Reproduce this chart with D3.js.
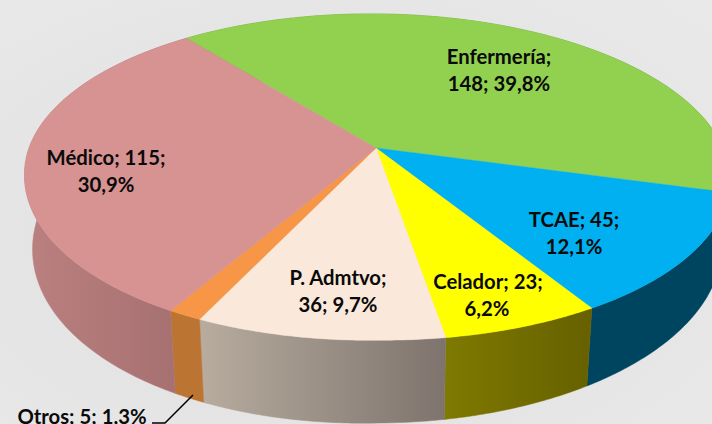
<!DOCTYPE html>
<html><head><meta charset="utf-8">
<script src="https://cdn.jsdelivr.net/npm/d3@7"></script>
<style>html,body{margin:0;padding:0;background:#e4e4e4;overflow:hidden}svg{display:block}</style>
</head><body><svg id="c" width="712" height="424"></svg>
<script>
const categories = ["Enfermería","TCAE","Celador","P. Admtvo","Otros","Médico"];
const values = [148,45,23,36,5,115];
const percents = ["39,8%","12,1%","6,2%","9,7%","1,3%","30,9%"];
const topColors = ["#92d050","#00b0f0","#ffff00","#fae8da","#f79646","#d79292"];
const sideFrom = ["#6d9c3b","#00455f","#7f7a00","#b8ac9f","#bc7433","#bb8080"];
const sideTo = ["#6d9c3b","#00455f","#666000","#7e746d","#bc7433","#a56f6f"];
const labelLines = [
 [["Enfermería;",499,57],["148; 39,8%",499,84]],
 [["TCAE; 45;",574,220],["12,1%",574,247]],
 [["Celador; 23;",488,282],["6,2%",487,309]],
 [["P. Admtvo;",338,278],["36; 9,7%",338,305]],
 [["Otros; 5; 1,3%",82,417]],
 [["Médico; 115;",106,158],["30,9%",106,185]]
];
const svg = d3.select("#c");
const defs = svg.append("defs");
const bg = defs.append("radialGradient").attr("id","bg").attr("cx","45%").attr("cy","55%").attr("r","75%");
bg.append("stop").attr("offset","0%").attr("stop-color","#dedede");
bg.append("stop").attr("offset","100%").attr("stop-color","#e9e9e9");
svg.append("rect").attr("width",712).attr("height",424).attr("fill","url(#bg)");

const x0=376,y0=148,A=347,B=158,k=0.178,depth=68,shrink=0.977,shear=0.037,tilt=7,depthTilt=4;
const sx=d3.scaleLinear().domain([0,1]).range([x0,x0+A]);
const sy=d3.scaleLinear().domain([0,1]).range([y0,y0-B]);
function proj(a){
  const x=Math.sin(a),y=Math.cos(a),w=1+k*y;
  const Y=sy(y/w)+tilt*Math.max(0,-x)*Math.max(0,-y);
  return {X:sx(x/w)+shear*(Y-y0),Y,w,x};
}
function low(a){const p=proj(a);return [x0+shrink*(p.X-x0),p.Y+(depth-depthTilt*p.x)/p.w];}
const start=-37.6*Math.PI/180;
const arcs=d3.pie().sort(null).value(d=>d).startAngle(start).endAngle(start+2*Math.PI)(values);
const samples=d=>d3.range(0,61).map(i=>d.startAngle+(d.endAngle-d.startAngle)*i/60);
const line=d3.line();

const g=svg.append("g");
arcs.forEach((d,i)=>{
  const s=samples(d);
  const up=s.map(a=>{const p=proj(a);return [p.X,p.Y];});
  const dn=s.map(low);
  const xs=up.concat(dn).map(p=>p[0]);
  const lg=defs.append("linearGradient").attr("id","s"+i).attr("gradientUnits","userSpaceOnUse")
    .attr("x1",d3.min(xs)).attr("x2",d3.max(xs)).attr("y1",0).attr("y2",0);
  lg.append("stop").attr("offset","0%").attr("stop-color",sideFrom[i]);
  lg.append("stop").attr("offset","100%").attr("stop-color",sideTo[i]);
  g.append("path").attr("d",line(up.concat(dn.reverse()))+"Z").attr("fill","url(#s"+i+")").attr("stroke","url(#s"+i+")").attr("stroke-width",0.5);
});
arcs.forEach((d,i)=>{
  const pts=[[x0,y0]].concat(samples(d).map(a=>{const p=proj(a);return [p.X,p.Y];}));
  g.append("path").attr("d",line(pts)+"Z").attr("fill",topColors[i]).attr("stroke",topColors[i]).attr("stroke-width",0.4);
});
svg.append("path").attr("d",line([[193,395],[165,423],[152,423]])).attr("fill","none").attr("stroke","#000").attr("stroke-width",1.5);
labelLines.forEach(ls=>ls.forEach(l=>{
  svg.append("text").attr("x",l[1]).attr("y",l[2]).attr("dy","0.35em").attr("text-anchor","middle")
   .attr("font-family","Lato, sans-serif").attr("font-weight",700).attr("font-size",20.3).attr("fill","#0a0a0a").text(l[0]);
}));
</script></body></html>
